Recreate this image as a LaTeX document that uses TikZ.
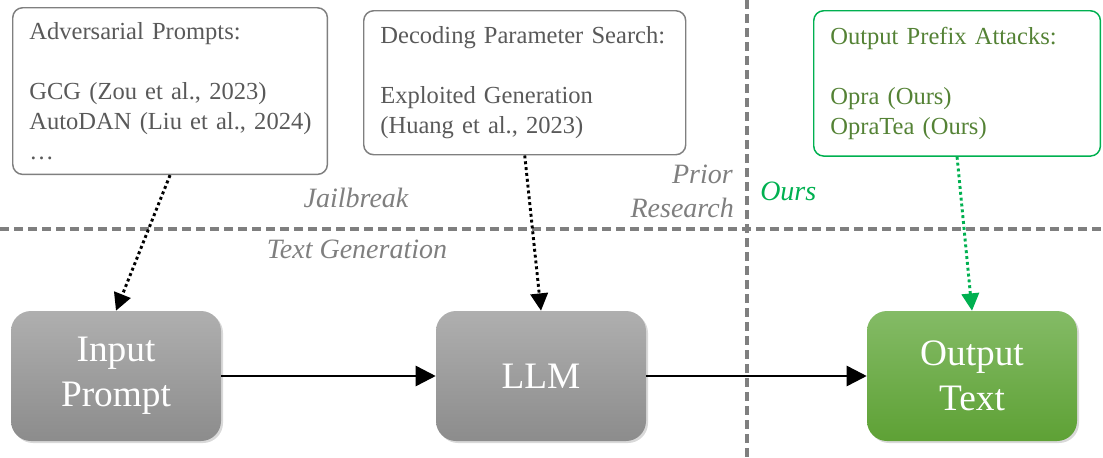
\documentclass[tikz,border=0pt]{standalone}
\usepackage{fontspec}
\setmainfont{Liberation Serif}
\usetikzlibrary{arrows.meta,shadows}
\definecolor{txtgray}{HTML}{595959}
\definecolor{linegray}{HTML}{7F7F7F}
\definecolor{txtgreen}{HTML}{548235}
\definecolor{oursgreen}{HTML}{00B050}
\definecolor{graytop}{RGB}{175,175,175}
\definecolor{graybot}{RGB}{140,140,140}
\definecolor{greentop}{RGB}{132,187,102}
\definecolor{greenbot}{RGB}{94,161,53}
\begin{document}
\begin{tikzpicture}[x=0.75pt,y=-0.75pt,
  note/.style = {draw=linegray, line width=1.1pt, rounded corners=7.5pt, align=left, anchor=north west, inner xsep=12.5pt, text=txtgray, font=\fontsize{18.4}{22.5}\selectfont},
  block/.style = {rounded corners=15pt, minimum width=157.5pt, minimum height=97.5pt, align=center, text=white, font=\fontsize{28}{33.75}\selectfont, drop shadow={shadow xshift=1.5pt, shadow yshift=-1.5pt, opacity=0.3}},
  grayblock/.style = {block, top color=graytop, bottom color=graybot},
  greenblock/.style = {block, top color=greentop, bottom color=greenbot},
  tag/.style = {inner sep=0pt, text=linegray, font=\fontsize{21}{25}\selectfont\itshape},
  divider/.style = {linegray, line width=2.4pt, dash pattern=on 7pt off 3.5pt},
  flow/.style = {-{Triangle[length=15pt,width=15pt]}, line width=1.9pt},
  hint/.style = {-{Triangle[length=13pt,width=13pt]}, line width=2.2pt, dash pattern=on 2.2pt off 2.2pt}]
\useasboundingbox (0,0) rectangle (1103,457);
% dividers
\draw[divider] (0,229) -- (1103,229);
\draw[divider] (747,0) -- (747,457);
% method boxes
\node[note, text width=211pt, minimum height=125pt] (adv) at (12,7) {Adversarial Prompts:\\[22.5pt]GCG~(Zou~et~al.,~2023)\\AutoDAN~(Liu~et~al.,~2024)\\…};
\node[note, text width=216.5pt, minimum height=108pt] (dec) at (363,10) {Decoding~Parameter~Search:\\[22.5pt]Exploited Generation\\(Huang~et~al.,~2023)};
\node[note, draw=oursgreen, text=txtgreen, text width=190pt, minimum height=109pt] (opa) at (813,10) {Output Prefix Attacks:\\[22.5pt]Opra (Ours)\\OpraTea (Ours)};
% pipeline
\node[grayblock] (input) at (116,376) {Input\\Prompt};
\node[grayblock] (llm) at (541,376) {LLM};
\node[greenblock] (output) at (972,376) {Output\\Text};
% tags
\node[tag, anchor=base] (jb) at (356,207) {Jailbreak};
\node[tag, anchor=base] (tg) at (357,258) {Text Generation};
\node[tag, anchor=base east] (prior) at (733,183) {Prior};
\node[tag, anchor=base east] (research) at (734,217) {Research};
\node[tag, text=oursgreen, anchor=base west] (ours) at (760,200) {Ours};
% connectors
\draw[flow] (input) -- (llm);
\draw[flow] (llm) -- (output);
\draw[hint] (adv.south) -- (input.north);
\draw[hint] (dec.south) -- (llm.north);
\draw[hint, oursgreen] (opa.south) -- (output.north);
\end{tikzpicture}
\end{document}
